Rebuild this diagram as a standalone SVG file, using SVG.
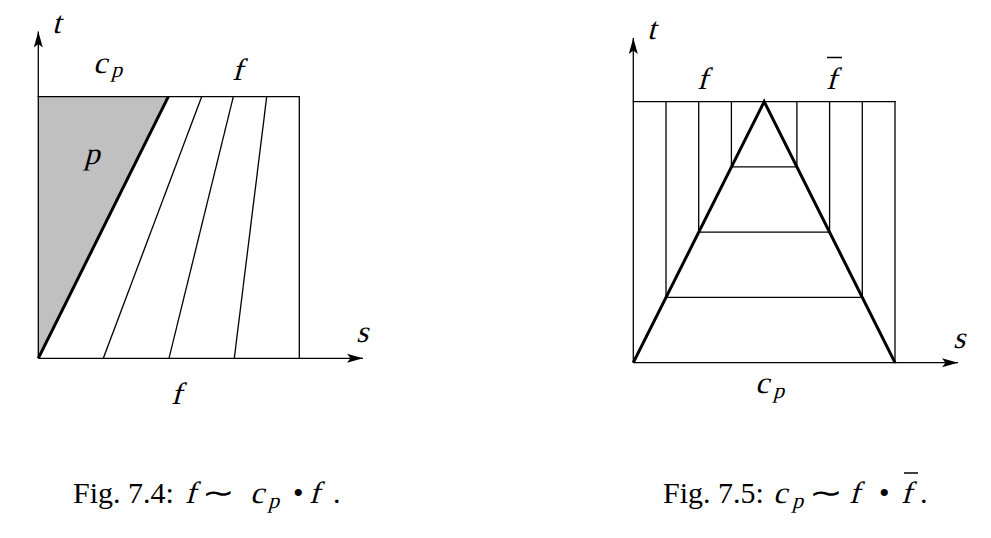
<svg xmlns="http://www.w3.org/2000/svg" width="991" height="538" viewBox="0 0 991 538">
<style>
.thin{stroke:#000;stroke-width:1.3;fill:none;stroke-linecap:square}
.thick{stroke:#000;stroke-width:3;fill:none;stroke-linejoin:miter}
.ax{stroke:#000;stroke-width:1.3;fill:none}
.m{font-family:"Liberation Serif","Times New Roman",serif;font-size:31px;fill:#000}
.r{font-family:"Liberation Serif","Times New Roman",serif;font-size:30px;fill:#000}
.sub{font-family:"Liberation Serif","Times New Roman",serif;font-size:22px;fill:#000}
.bar{stroke:#000;stroke-width:1.5}
</style>
<defs>
<marker id="arr" markerUnits="userSpaceOnUse" markerWidth="20" markerHeight="12" refX="16" refY="5" orient="auto" overflow="visible">
<path d="M0,0.5 L16,5 L0,9.5 L3.5,5 Z" fill="#000"/>
</marker>
</defs>

<g id="fig74">
<polygon points="38.3,96.7 168.3,96.7 38.3,358.3" fill="#c0c0c0"/>
<g id="fig74-box">
<line class="thin" x1="38.3" y1="96.7" x2="299.3" y2="96.7"/>
<line class="thin" x1="299.3" y1="96.7" x2="299.3" y2="358.3"/>
</g>
<g id="fig74-lines">
<line class="thin" x1="103.3" y1="358.3" x2="201.7" y2="96.7"/>
<line class="thin" x1="169" y1="358.3" x2="233.3" y2="96.7"/>
<line class="thin" x1="234.3" y1="358.3" x2="266.7" y2="96.7"/>
<line class="thick" x1="38.3" y1="358.3" x2="168.3" y2="96.7"/>
</g>
<g id="fig74-axes">
<line class="ax" x1="38.3" y1="358.3" x2="38.3" y2="31.5" marker-end="url(#arr)"/>
<line class="ax" x1="38.3" y1="358.3" x2="363" y2="358.3" marker-end="url(#arr)"/>
</g>
<text class="m" transform="translate(52,33) skewX(-15)">t</text>
<text class="m" transform="translate(356,342) skewX(-15)">s</text>
<text class="m" transform="translate(93,73) skewX(-15)">c</text>
<text class="sub" transform="translate(111,77) skewX(-15)">p</text>
<text class="m" transform="translate(232,80) skewX(-15)">f</text>
<text class="m" transform="translate(84,164) skewX(-15)">p</text>
<text class="m" transform="translate(171,404) skewX(-15)">f</text>
</g>

<g id="fig75">
<g id="fig75-box">
<line class="thin" x1="633.3" y1="101.7" x2="895" y2="101.7"/>
<line class="thin" x1="895" y1="101.7" x2="895" y2="362.7"/>
</g>
<g id="fig75-grid">
<line class="thin" x1="666" y1="101.7" x2="666" y2="297.45"/>
<line class="thin" x1="698.7" y1="101.7" x2="698.7" y2="232.2"/>
<line class="thin" x1="731.4" y1="101.7" x2="731.4" y2="166.95"/>
<line class="thin" x1="796.9" y1="101.7" x2="796.9" y2="166.95"/>
<line class="thin" x1="829.6" y1="101.7" x2="829.6" y2="232.2"/>
<line class="thin" x1="862.3" y1="101.7" x2="862.3" y2="297.45"/>
<line class="thin" x1="731.4" y1="166.95" x2="796.9" y2="166.95"/>
<line class="thin" x1="698.7" y1="232.2" x2="829.6" y2="232.2"/>
<line class="thin" x1="666" y1="297.45" x2="862.3" y2="297.45"/>
</g>
<polyline class="thick" points="633.3,362.7 764.15,101.7 895,362.7"/>
<g id="fig75-axes">
<line class="ax" x1="633.3" y1="362.7" x2="633.3" y2="38" marker-end="url(#arr)"/>
<line class="ax" x1="633.3" y1="362.7" x2="958" y2="362.7" marker-end="url(#arr)"/>
</g>
<text class="m" transform="translate(647,39) skewX(-15)">t</text>
<text class="m" transform="translate(953,348) skewX(-15)">s</text>
<text class="m" transform="translate(697,89) skewX(-15)">f</text>
<text class="m" transform="translate(826,89) skewX(-15)">f</text>
<line class="bar" x1="827" y1="57.5" x2="842" y2="57.5"/>
<text class="m" transform="translate(755,393) skewX(-15)">c</text>
<text class="sub" transform="translate(773,398) skewX(-15)">p</text>
</g>

<g id="captions">
<text class="r" x="73" y="503">Fig. 7.4:</text>
<text class="m" transform="translate(185,503) skewX(-15)">f</text>
<text class="r" transform="translate(202,503) scale(1.3,1)">∼</text>
<text class="m" transform="translate(250,503) skewX(-15)">c</text>
<text class="sub" transform="translate(268,508) skewX(-15)">p</text>
<text class="r" x="293" y="503">•</text>
<text class="m" transform="translate(309,503) skewX(-15)">f</text>
<text class="r" x="333" y="503">.</text>

<text class="r" x="663" y="503">Fig. 7.5:</text>
<text class="m" transform="translate(773,503) skewX(-15)">c</text>
<text class="sub" transform="translate(792,508) skewX(-15)">p</text>
<text class="r" transform="translate(809,503) scale(1.35,1)">∼</text>
<text class="m" transform="translate(849,503) skewX(-15)">f</text>
<text class="r" x="879" y="503">•</text>
<text class="m" transform="translate(901,503) skewX(-15)">f</text>
<line class="bar" x1="904" y1="473" x2="918" y2="473"/>
<text class="r" x="920" y="503">.</text>
</g>
</svg>
